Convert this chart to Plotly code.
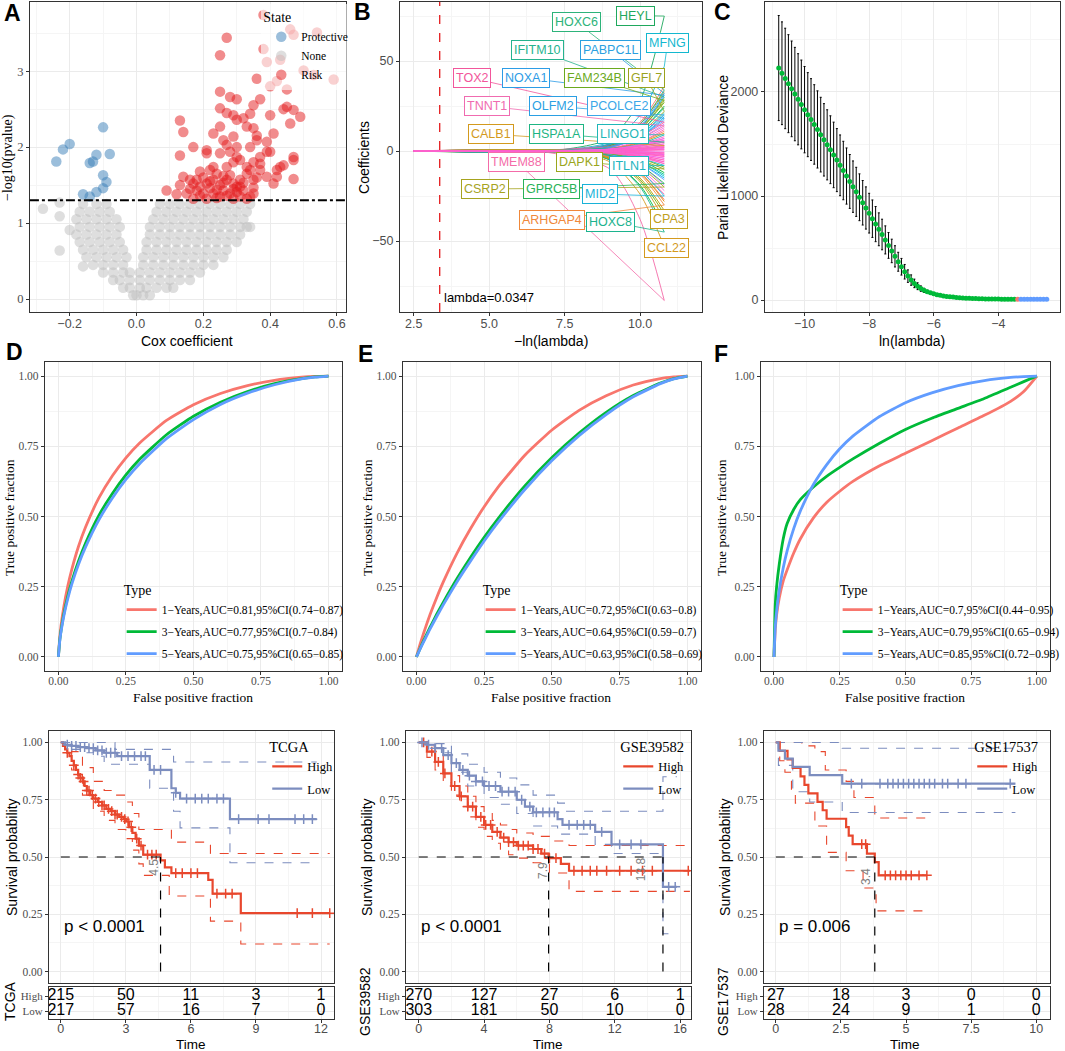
import numpy as np
import plotly.graph_objects as go

W, H = 1065, 1051
SANS = "Liberation Sans, Arial, sans-serif"
SERIF = "Liberation Serif, Times New Roman, serif"
TXT_GREY = "#4D4D4D"

# ---------------- A: univariate Cox volcano ----------------
risk_x = [0.38, 0.46, 0.47, 0.54, 0.27, 0.25, 0.38, 0.39, 0.50, 0.53, 0.59, 0.36, 0.42, 0.45,
          0.25, 0.28, 0.30, 0.37, 0.25, 0.45, 0.47, 0.49, 0.46, 0.29, 0.32, 0.34, 0.30, 0.40,
          0.13, 0.14, 0.17, 0.21, 0.23, 0.25, 0.26, 0.29, 0.33, 0.35, 0.36, 0.39, 0.40, 0.41,
          0.30, 0.30, 0.28, 0.25, 0.13, 0.21, 0.27, 0.31, 0.33, 0.37, 0.44, 0.47, 0.47, 0.43,
          0.39, 0.35, 0.42, 0.41, 0.37, 0.23, 0.19, 0.18, 0.16, 0.13, 0.09, 0.21, 0.23, 0.25,
          0.27, 0.29, 0.31, 0.33, 0.34, 0.28, 0.24, 0.18, 0.15, 0.20, 0.23, 0.25, 0.28, 0.30,
          0.32, 0.34, 0.17, 0.21, 0.24, 0.29, 0.33, 0.35, 0.19, 0.22, 0.26, 0.30, 0.14, 0.37,
          0.39, 0.31,
          0.16, 0.19, 0.22, 0.24, 0.26, 0.27, 0.29, 0.31, 0.32, 0.26, 0.20, 0.17, 0.35, 0.36,
          0.12, 0.22, 0.29, 0.35, 0.27, 0.34, 0.42, 0.47, 0.36, 0.27, 0.35, 0.40, 0.44, 0.43]
risk_y = [3.74, 3.55, 3.48, 3.51, 3.44, 3.21, 3.29, 3.12, 3.01, 2.95, 2.89, 2.90, 2.87, 2.76,
          2.73, 2.66, 2.63, 2.63, 2.51, 2.53, 2.49, 2.40, 2.31, 2.42, 2.38, 2.44, 2.36, 2.42,
          2.35, 2.20, 2.00, 1.96, 2.18, 2.27, 2.09, 2.14, 2.27, 2.25, 2.09, 2.07, 1.94, 2.18,
          2.00, 1.87, 1.94, 1.92, 1.89, 1.92, 1.74, 1.83, 1.74, 1.78, 1.76, 1.87, 1.83, 1.74,
          1.61, 1.57, 1.61, 1.52, 1.70, 1.74, 1.68, 1.57, 1.57, 1.50, 1.43, 1.52, 1.57, 1.50,
          1.57, 1.52, 1.57, 1.65, 1.70, 1.63, 1.65, 1.43, 1.39, 1.39, 1.39, 1.35, 1.39, 1.41,
          1.43, 1.35, 1.32, 1.32, 1.33, 1.32, 1.32, 1.39, 1.48, 1.46, 1.43, 1.48, 1.61, 1.87,
          1.94, 1.48,
          1.45, 1.36, 1.55, 1.44, 1.53, 1.36, 1.45, 1.35, 1.53, 1.62, 1.60, 1.52, 1.47, 1.60,
          1.38, 1.70, 1.80, 1.80, 2.03, 2.00, 1.70, 1.58, 2.15, 2.45, 2.55, 2.80, 2.50, 3.15]
prot_x = [-0.24, -0.22, -0.20, -0.10, -0.12, -0.14, -0.13, -0.08, -0.10, -0.09, -0.10, -0.12, -0.16, -0.14]
prot_y = [1.81, 1.97, 2.04, 2.26, 1.90, 1.79, 1.81, 1.91, 1.63, 1.54, 1.46, 1.41, 1.38, 1.35]
none_row_y = [1.25, 1.15, 1.05, 0.95, 0.85, 0.75, 0.65, 0.55, 0.45, 0.35, 0.25, 0.15, 0.05]
none_row_x = [
    [-0.16, -0.12, -0.09, 0.07, 0.10, 0.13, 0.16, 0.19, 0.22, 0.25, 0.28, 0.31, 0.34],
    [-0.17, -0.14, -0.11, -0.08, 0.06, 0.09, 0.12, 0.15, 0.18, 0.21, 0.24, 0.27, 0.30, 0.33],
    [-0.18, -0.15, -0.12, -0.09, -0.06, 0.05, 0.08, 0.11, 0.14, 0.17, 0.20, 0.23, 0.26, 0.29, 0.32],
    [-0.17, -0.14, -0.11, -0.08, -0.05, 0.04, 0.07, 0.10, 0.13, 0.16, 0.19, 0.22, 0.25, 0.28, 0.31, 0.34],
    [-0.18, -0.15, -0.12, -0.09, -0.06, 0.04, 0.07, 0.10, 0.13, 0.16, 0.19, 0.22, 0.25, 0.28, 0.31],
    [-0.17, -0.14, -0.11, -0.08, -0.05, 0.03, 0.06, 0.09, 0.12, 0.15, 0.18, 0.21, 0.24, 0.27, 0.30],
    [-0.16, -0.13, -0.10, -0.07, -0.04, 0.03, 0.06, 0.09, 0.12, 0.15, 0.18, 0.21, 0.24, 0.27],
    [-0.15, -0.12, -0.09, -0.06, -0.03, 0.02, 0.05, 0.08, 0.11, 0.14, 0.17, 0.20, 0.23, 0.26],
    [-0.13, -0.10, -0.07, -0.04, 0.02, 0.05, 0.08, 0.11, 0.14, 0.17, 0.20, 0.23],
    [-0.10, -0.07, -0.04, -0.02, 0.01, 0.04, 0.07, 0.10, 0.13, 0.16, 0.19],
    [-0.07, -0.05, -0.02, 0.01, 0.04, 0.07, 0.10, 0.13, 0.16],
    [-0.04, -0.02, 0.01, 0.03, 0.06, 0.09, 0.11],
    [-0.01, 0.00, 0.02, 0.04],
]
none_out_x = [-0.28, -0.23, -0.23, -0.20, -0.23, -0.16, 0.33]
none_out_y = [1.19, 1.27, 1.09, 0.91, 0.64, 0.43, 0.95]
p_cut = 1.3

# ---------------- B: LASSO coefficient paths ----------------
gene_names = ["HEYL", "HOXC6", "MFNG", "IFITM10", "PABPC1L", "TOX2", "NOXA1", "FAM234B", "GFL7",
              "TNNT1", "OLFM2", "PCOLCE2", "CALB1", "HSPA1A", "LINGO1", "TMEM88", "DAPK1", "ITLN1",
              "CSRP2", "GPRC5B", "MID2", "ARHGAP4", "HOXC8", "CPA3", "CCL22"]
gene_end = [75, 34, 47, 30, 32, 16, 31, 28, 22, 14, 20, 18, 3, 5, 9, -83, -10, -8, -20, -18, -25, -30, -45, -38, -53]
gene_at10 = [28, 15, 20, 13, 14, 8, 13, 12, 10, 7, 9, 8, 1.5, 3, 4, -38, -5, -4, -9, -8, -11, -13, -20, -17, -24]
gene_at9 = [7, 4, 5, 3.5, 4, 3, 3.5, 3, 2.5, 2.5, 2.5, 2, 0.5, 1.5, 1, -10, -1.5, -1, -2.5, -2.5, -3, -3.5, -5, -4.5, -6]
gene_start = [7.0, 7.2, 6.8, 7.5, 7.4, 6.0, 7.3, 7.6, 7.8, 6.3, 7.7, 7.9, 8.0, 5.5, 8.2, 6.6, 7.8, 8.3,
              7.7, 7.4, 7.9, 8.0, 7.5, 7.8, 7.3]
gene_label_x = [9.84, 7.89, 10.91, 6.61, 9.02, 4.42, 6.23, 8.49, 10.2, 4.92, 7.1, 9.29, 5.07, 7.22, 9.42,
                5.91, 7.99, 9.62, 4.87, 7.07, 8.68, 7.07, 9.01, 10.94, 10.88]
gene_label_y = [75.2, 71.5, 60.0, 56.1, 56.1, 40.6, 40.6, 40.6, 40.6, 25.0, 25.0, 25.0, 9.4, 9.4, 9.4,
                -5.9, -5.9, -8.3, -21.1, -21.1, -23.9, -38.3, -39.3, -37.8, -53.9]
gene_color = ["#1FA85D", "#2DB37A", "#13B8CF", "#25B38E", "#2AA0E0", "#F2569B", "#2C9CE6", "#6BAA1E",
              "#9AA21E", "#F06BB0", "#2A9FE3", "#3AA7E8", "#D39A1E", "#1EB583", "#1FB7B8", "#F46BA8",
              "#9AA61C", "#21B5C0", "#A6A31E", "#29B258", "#18B2D8", "#F0883A", "#1CB38E", "#C2A01E",
              "#D49A1E"]
extra_end = [36, 33, 29, 27, 25, 24, 21, 19, 17, 15, 13, 12, 11, 10, 8, 7, 6, 4, 2, 1,
             -1, -2, -3, -4, -5, -6, -7, -9, -12, -13, -14, -15, -16, -19, -22, -24, -27, -28, -33, -35, -42]
extra_at10 = [16, 15, 13, 12, 11, 11, 9, 8, 8, 7, 6, 5, 5, 4.5, 3.5, 3, 3, 2, 1, 0.5,
              -0.5, -1, -1.5, -2, -2.5, -3, -3, -4, -5, -6, -6, -7, -7, -8, -10, -11, -12, -12, -15, -16, -19]
extra_at9 = [4, 4, 3.5, 3, 3, 3, 2.5, 2, 2, 2, 1.5, 1.5, 1.5, 1, 1, 1, 1, 0.5, 0.3, 0.2,
             -0.2, -0.3, -0.5, -0.5, -0.7, -1, -1, -1, -1.5, -1.5, -2, -2, -2, -2.5, -3, -3, -3.5, -3.5, -4, -4.5, -5]
extra_start = [7.6, 7.9, 7.3, 8.1, 7.5, 7.7, 8.0, 7.2, 7.8, 8.2, 7.4, 6.9, 7.6, 8.0, 7.1, 7.7, 6.5, 7.9, 6.8, 6.2,
               5.8, 6.4, 7.0, 7.5, 6.6, 7.2, 7.8, 7.3, 8.1, 7.6, 7.9, 7.4, 8.2, 7.7, 7.5, 8.0, 7.6, 7.9, 7.4, 7.7, 7.8]
minor_end = [6, 5, 4, 3, 2.5, 2, 1.5, 1, 0.5, -0.5, -1, -1.5, -2, -2.5, -3, -4, -5, -6, 7, -7]
minor_at10 = [3, 2.5, 2, 1.5, 1.2, 1, 0.8, 0.5, 0.3, -0.3, -0.5, -0.8, -1, -1.2, -1.5, -2, -2.5, -3, 3.5, -3.5]
minor_at9 = [1, 0.8, 0.7, 0.5, 0.4, 0.3, 0.3, 0.2, 0.1, -0.1, -0.2, -0.3, -0.3, -0.4, -0.5, -0.7, -0.8, -1, 1.2, -1.2]
minor_start = [5.0, 5.5, 6.0, 4.8, 6.5, 5.2, 7.0, 4.5, 6.2, 5.8, 4.9, 6.8, 5.4, 6.1, 5.6, 7.2, 6.4, 5.9, 6.7, 7.4]
lambda_min_x = 3.36
HUE = ["#F8766D", "#DE8C00", "#B79F00", "#7CAE00", "#00BA38", "#00C08B", "#00BFC4",
       "#00B4F0", "#619CFF", "#C77CFF", "#F564E3", "#FF64B0"]

# ---------------- C: cross-validation curve ----------------
ln_lambda = [-10.8, -10.7, -10.6, -10.5, -10.4, -10.3, -10.2, -10.1, -10.0, -9.9,
             -9.8, -9.7, -9.6, -9.5, -9.4, -9.3, -9.2, -9.1, -9.0, -8.9,
             -8.8, -8.7, -8.6, -8.5, -8.4, -8.3, -8.2, -8.1, -8.0, -7.9,
             -7.8, -7.7, -7.6, -7.5, -7.4, -7.3, -7.2, -7.1, -7.0, -6.9,
             -6.8, -6.7, -6.6, -6.5, -6.4, -6.3, -6.2, -6.1, -6.0, -5.9,
             -5.8, -5.7, -5.6, -5.5, -5.4, -5.3, -5.2, -5.1, -5.0, -4.9,
             -4.8, -4.7, -4.6, -4.5, -4.4, -4.3, -4.2, -4.1, -4.0, -3.9,
             -3.8, -3.7, -3.6, -3.5, -3.4, -3.3, -3.2, -3.1, -3.0, -2.9,
             -2.8, -2.7, -2.6, -2.5]
deviance = [2230, 2180, 2130, 2080, 2030, 1980, 1930, 1880, 1830, 1782,
            1735, 1688, 1640, 1590, 1540, 1492, 1445, 1395, 1345, 1295,
            1245, 1192, 1140, 1090, 1040, 988, 935, 885, 835, 782,
            730, 680, 630, 578, 525, 472, 420, 368, 320, 272,
            230, 192, 160, 133, 110, 93, 80, 69, 60, 52,
            45, 40, 35, 31, 28, 25, 22, 20, 18, 16,
            15, 14, 13, 12, 11, 10, 10, 9, 9, 8,
            8, 8, 7, 7, 7, 7, 7, 7, 7, 7,
            7, 7, 7, 7]
dev_err = [505, 494, 483, 471, 460, 449, 438, 427, 415, 404,
           393, 382, 371, 359, 348, 337, 326, 315, 303, 292,
           281, 270, 259, 247, 236, 225, 214, 203, 191, 180,
           169, 158, 147, 135, 124, 113, 102, 91, 80, 70,
           60, 50, 41, 33, 26, 20, 15, 11, 8, 6,
           5, 4, 4, 3, 3, 3, 2, 2, 2, 2,
           2, 2, 2, 1, 1, 1, 1, 1, 1, 1,
           1, 1, 1, 1, 1, 1, 1, 1, 1, 1,
           1, 1, 1, 1]
lam_group = ["g"] * 74 + ["r"] + ["b"] * 9

# ---------------- D/E/F: time-dependent ROC ----------------
fpr = [0, 0.005, 0.01, 0.02, 0.035, 0.05, 0.075, 0.1, 0.15, 0.2, 0.25, 0.3, 0.4, 0.5, 0.6, 0.7, 0.8, 0.9, 0.95, 1.0]
roc_tcga = [
    [0, 0.069, 0.113, 0.178, 0.253, 0.313, 0.395, 0.461, 0.566, 0.645, 0.709, 0.761, 0.842, 0.898, 0.938, 0.966, 0.985, 0.996, 0.999, 1.0],
    [0, 0.059, 0.095, 0.152, 0.217, 0.270, 0.343, 0.404, 0.504, 0.582, 0.648, 0.703, 0.791, 0.857, 0.907, 0.945, 0.973, 0.991, 0.997, 1.0],
    [0, 0.056, 0.091, 0.145, 0.208, 0.260, 0.331, 0.390, 0.488, 0.566, 0.632, 0.687, 0.777, 0.845, 0.899, 0.939, 0.969, 0.990, 0.996, 1.0],
]
roc_gse39582 = [
    [0, 0.017, 0.034, 0.065, 0.109, 0.150, 0.212, 0.269, 0.370, 0.457, 0.535, 0.603, 0.718, 0.808, 0.878, 0.930, 0.968, 0.991, 0.997, 1.0],
    [0, 0.011, 0.022, 0.044, 0.075, 0.105, 0.152, 0.196, 0.279, 0.355, 0.426, 0.491, 0.609, 0.710, 0.797, 0.871, 0.931, 0.975, 0.991, 1.0],
    [0, 0.010, 0.021, 0.041, 0.070, 0.099, 0.144, 0.187, 0.268, 0.342, 0.413, 0.478, 0.596, 0.699, 0.788, 0.863, 0.926, 0.973, 0.990, 1.0],
]
roc_gse17537 = [
    [0, 0.10, 0.15, 0.21, 0.27, 0.31, 0.37, 0.42, 0.495, 0.55, 0.59, 0.625, 0.68, 0.725, 0.77, 0.815, 0.86, 0.91, 0.945, 1.0],
    [0, 0.19, 0.25, 0.33, 0.42, 0.475, 0.525, 0.56, 0.605, 0.643, 0.675, 0.705, 0.76, 0.81, 0.85, 0.885, 0.92, 0.96, 0.98, 1.0],
    [0, 0.110, 0.163, 0.238, 0.317, 0.378, 0.457, 0.519, 0.614, 0.684, 0.741, 0.786, 0.855, 0.905, 0.940, 0.966, 0.984, 0.995, 0.998, 1.0],
]
roc_names_tcga = ["1−Years,AUC=0.81,95%CI(0.74−0.87)", "3−Years,AUC=0.77,95%CI(0.7−0.84)",
                  "5−Years,AUC=0.75,95%CI(0.65−0.85)"]
roc_names_gse39582 = ["1−Years,AUC=0.72,95%CI(0.63−0.8)", "3−Years,AUC=0.64,95%CI(0.59−0.7)",
                      "5−Years,AUC=0.63,95%CI(0.58−0.69)"]
roc_names_gse17537 = ["1−Years,AUC=0.7,95%CI(0.44−0.95)", "3−Years,AUC=0.79,95%CI(0.65−0.94)",
                      "5−Years,AUC=0.85,95%CI(0.72−0.98)"]
ROC_COL = ["#F8766D", "#00BA38", "#619CFF"]

# ---------------- KM curves ----------------
tcga_hi_t = [0, 0.1, 0.2, 0.3, 0.4, 0.5, 0.6, 0.7, 0.8, 0.9, 1.0, 1.1, 1.2, 1.35, 1.5, 1.7, 1.9, 2.1, 2.3,
             2.5, 2.7, 2.9, 3.0, 3.15, 3.3, 3.45, 3.6, 3.8, 4.6, 4.8, 5.1, 6.8, 7.0, 8.3]
tcga_hi_s = [1.0, 0.985, 0.97, 0.955, 0.94, 0.92, 0.9, 0.88, 0.86, 0.845, 0.83, 0.81, 0.79, 0.77, 0.755,
             0.74, 0.725, 0.71, 0.70, 0.685, 0.675, 0.665, 0.655, 0.63, 0.605, 0.58, 0.55, 0.51, 0.485,
             0.455, 0.43, 0.40, 0.34, 0.255]
tcga_hi_up_t = [0, 0.5, 1.0, 1.5, 2.0, 2.5, 3.0, 3.3, 3.6, 5.1, 6.9]
tcga_hi_up_s = [1.0, 0.96, 0.89, 0.83, 0.79, 0.77, 0.74, 0.69, 0.62, 0.565, 0.515]
tcga_hi_lo_t = [0, 0.5, 1.0, 1.5, 2.0, 2.5, 3.0, 3.3, 3.6, 3.8, 5.0, 6.9, 8.3]
tcga_hi_lo_s = [1.0, 0.88, 0.77, 0.70, 0.66, 0.62, 0.58, 0.53, 0.47, 0.42, 0.33, 0.22, 0.12]
tcga_hi_cens = [0.3, 0.6, 0.8, 0.9, 1.05, 1.2, 1.3, 1.45, 1.6, 1.75, 1.9, 2.0, 2.2, 2.35, 2.5, 2.6, 2.8,
                2.95, 3.1, 3.25, 3.5, 3.7, 4.0, 4.2, 4.4, 5.3, 5.6, 6.0, 6.3, 7.2, 7.6, 7.9, 10.9, 11.6, 12.4]
tcga_lo_t = [0, 0.2, 0.5, 0.8, 1.2, 1.6, 2.0, 2.6, 4.1, 5.1, 5.3, 5.5, 7.8]
tcga_lo_s = [1.0, 0.99, 0.985, 0.98, 0.975, 0.965, 0.955, 0.94, 0.88, 0.80, 0.78, 0.755, 0.665]
tcga_lo_up_t = [0, 2.5, 5.2]
tcga_lo_up_s = [1.0, 0.97, 0.915]
tcga_lo_lo_t = [0, 0.5, 1.0, 1.5, 2.0, 4.1, 5.2, 5.5, 7.8]
tcga_lo_lo_s = [1.0, 0.97, 0.955, 0.94, 0.905, 0.80, 0.70, 0.627, 0.475]
tcga_lo_cens = [0.3, 0.5, 0.7, 0.9, 1.1, 1.3, 1.5, 1.7, 1.9, 2.1, 2.3, 2.5, 2.8, 3.1, 3.4, 3.7, 3.9, 4.3,
                4.6, 5.3, 5.8, 6.2, 6.5, 6.8, 7.2, 7.5, 8.2, 9.1, 9.6, 10.8, 11.2, 11.6]
tcga_end = [12.4, 11.8]
tcga_median = [4.6]
tcga_risk_t = [0, 3, 6, 9, 12]
tcga_risk_hi = [215, 50, 11, 3, 1]
tcga_risk_lo = [217, 57, 16, 7, 0]

g395_hi_t = [0, 0.5, 1.0, 1.5, 2.0, 2.5, 3.0, 3.5, 4.0, 4.5, 5.0, 5.5, 6.0, 7.0, 7.5, 7.95, 8.7, 9.2]
g395_hi_s = [1.0, 0.96, 0.915, 0.865, 0.81, 0.765, 0.72, 0.675, 0.64, 0.61, 0.585, 0.565, 0.55, 0.535,
             0.515, 0.495, 0.47, 0.44]
g395_hi_up_t = [0, 0.5, 1, 1.5, 2, 2.5, 3, 3.5, 4, 4.5, 5, 5.5, 6, 7, 8, 9.2]
g395_hi_up_s = [1.0, 0.985, 0.95, 0.905, 0.855, 0.81, 0.765, 0.72, 0.69, 0.66, 0.64, 0.62, 0.605, 0.59, 0.57, 0.55]
g395_hi_lo_t = [0, 0.5, 1, 1.5, 2, 2.5, 3, 3.5, 4, 4.5, 5, 5.5, 6, 7, 8, 9.2]
g395_hi_lo_s = [1.0, 0.935, 0.88, 0.825, 0.77, 0.72, 0.675, 0.63, 0.59, 0.56, 0.53, 0.51, 0.495, 0.475, 0.43, 0.35]
g395_hi_cens = [0.3, 0.8, 1.2, 1.6, 2.2, 2.6, 3.0, 3.3, 3.8, 4.1, 4.4, 4.8, 5.2, 5.5, 5.8, 6.1, 6.4, 6.7,
                7.0, 7.3, 7.7, 8.0, 8.4, 9.5, 10.0, 10.5, 10.9, 11.5, 12.3, 13.0, 13.7, 14.3, 16.5]
g395_lo_t = [0, 0.5, 1.0, 1.5, 2.0, 2.5, 3.0, 3.5, 4.0, 5.0, 6.0, 6.5, 7.0, 8.5, 8.8, 10.8, 11.8, 14.95]
g395_lo_s = [1.0, 0.99, 0.975, 0.945, 0.91, 0.88, 0.855, 0.83, 0.81, 0.785, 0.75, 0.72, 0.695, 0.665,
             0.64, 0.61, 0.555, 0.37]
g395_lo_up_t = [0, 1, 2, 3, 4, 5, 6, 7, 8.5, 9.0, 14.95]
g395_lo_up_s = [1.0, 0.995, 0.95, 0.905, 0.87, 0.845, 0.815, 0.77, 0.735, 0.70, 0.85]
g395_lo_lo_t = [0, 1, 2, 3, 4, 5, 6, 7, 8.5, 10.8, 11.8, 14.95]
g395_lo_lo_s = [1.0, 0.955, 0.87, 0.81, 0.76, 0.73, 0.69, 0.635, 0.60, 0.555, 0.515, 0.165]
g395_lo_cens = [0.2, 0.6, 1.0, 1.4, 1.8, 2.3, 2.7, 3.1, 3.5, 3.9, 4.3, 4.7, 5.1, 5.5, 5.9, 6.3, 6.8, 7.2,
                7.6, 8.0, 8.3, 9.2, 9.7, 10.1, 10.5, 11.2, 12.3, 13.0, 13.6, 15.3, 15.7]
g395_end = [16.6, 15.8]
g395_median = [7.95, 14.95]
g395_risk_t = [0, 4, 8, 12, 16]
g395_risk_hi = [270, 127, 27, 6, 1]
g395_risk_lo = [303, 181, 50, 10, 0]

g175_hi_t = [0, 0.15, 0.45, 0.65, 0.95, 1.1, 1.25, 1.6, 1.8, 1.95, 2.7, 2.8, 2.95, 3.5, 3.8, 3.95]
g175_hi_s = [1.0, 0.963, 0.926, 0.889, 0.852, 0.815, 0.778, 0.741, 0.704, 0.667, 0.63, 0.593, 0.556,
             0.515, 0.478, 0.42]
g175_hi_up_t = [0, 1.0, 1.5, 1.9, 2.7, 3.0, 3.8]
g175_hi_up_s = [1.0, 0.985, 0.96, 0.88, 0.83, 0.76, 0.67]
g175_hi_lo_t = [0, 0.15, 0.35, 0.6, 0.75, 1.5, 1.95, 2.7, 3.35, 3.85]
g175_hi_lo_s = [1.0, 0.92, 0.87, 0.79, 0.735, 0.635, 0.52, 0.44, 0.365, 0.265]
g175_hi_cens = [3.3, 3.45, 4.2, 4.4, 4.6, 4.8, 5.0, 5.2, 5.5, 5.8]
g175_lo_t = [0, 0.1, 0.35, 0.65, 1.3, 2.55]
g175_lo_s = [1.0, 0.964, 0.929, 0.893, 0.857, 0.82]
g175_lo_up_t = [0, 2.55]
g175_lo_up_s = [1.0, 0.975]
g175_lo_lo_t = [0, 0.1, 0.65, 1.3, 2.55]
g175_lo_lo_s = [1.0, 0.9, 0.785, 0.74, 0.694]
g175_lo_cens = [2.9, 3.3, 4.0, 4.3, 4.5, 4.7, 4.9, 5.1, 5.3, 5.5, 5.7, 5.9, 6.1, 6.4, 6.6, 7.0, 7.3, 9.0]
g175_end = [5.8, 9.2]
g175_median = [3.8]
g175_risk_t = [0, 2.5, 5, 7.5, 10]
g175_risk_hi = [27, 18, 3, 0, 0]
g175_risk_lo = [28, 24, 9, 1, 0]

HI_COL = "#E8472D"
LO_COL = "#7C8DBF"


# ---------------- helpers ----------------
def dom_x(a, b):
    return [a / W, b / W]


def dom_y(top, bottom):
    return [1 - bottom / H, 1 - top / H]


def nm(n):
    return "" if n == 1 else str(n)


def axis(dom, rng, family, size, dtick=None, minor=None, **kw):
    d = dict(domain=dom, range=list(rng), showline=True, mirror=True, linecolor="#333333",
             linewidth=1, ticks="outside", ticklen=3, tickcolor="#333333", tickwidth=1,
             showgrid=True, gridcolor="#EBEBEB", gridwidth=1, zeroline=False,
             tickfont=dict(family=family, size=size, color=TXT_GREY))
    if dtick is not None:
        d.update(tick0=0, dtick=dtick)
    if minor is not None:
        d["minor"] = dict(showgrid=True, gridcolor="#F5F5F5", gridwidth=1, dtick=minor, tick0=0)
    d.update(kw)
    return d


layout_axes = {}
annots = []
shapes = []
fig = go.Figure()


def set_axes(n, xa, ya):
    layout_axes["xaxis" + nm(n)] = dict(xa, anchor="y" + nm(n))
    layout_axes["yaxis" + nm(n)] = dict(ya, anchor="x" + nm(n))


def txt(x, y, s, family=SANS, size=14, color="black", angle=0, **kw):
    annots.append(dict(x=x / W, y=1 - y / H, xref="paper", yref="paper", text=s, showarrow=False,
                       textangle=angle, font=dict(family=family, size=size, color=color),
                       xanchor="center", yanchor="middle", **kw))


# ---------------- A ----------------
set_axes(1, axis(dom_x(30, 347), (-0.319, 0.627), SANS, 12.5, 0.2, 0.1, tickformat=".1f",
                 ticklabelstandoff=-3),
         axis(dom_y(2, 312), (-0.17, 3.91), SERIF, 12.5, 1, 0.5))
none_x = [v for row in none_row_x for v in row] + none_out_x
none_y = [none_row_y[i] for i, row in enumerate(none_row_x) for _ in row] + none_out_y
mk = dict(size=10.5, line=dict(width=0))
fig.add_trace(go.Scatter(x=none_x, y=none_y, mode="markers", name="None", legendrank=2,
                         marker=dict(mk, color="rgba(190,190,190,0.5)"), xaxis="x", yaxis="y"))
fig.add_trace(go.Scatter(x=prot_x, y=prot_y, mode="markers", name="Protective", legendrank=1,
                         marker=dict(mk, color="rgba(55,126,184,0.5)"), xaxis="x", yaxis="y"))
fig.add_trace(go.Scatter(x=risk_x, y=risk_y, mode="markers", name="Risk", legendrank=3,
                         marker=dict(mk, color="rgba(228,26,28,0.5)"), xaxis="x", yaxis="y"))
shapes.append(dict(type="line", xref="x domain", yref="y", x0=0, x1=1, y0=p_cut, y1=p_cut,
                   line=dict(color="black", width=2, dash="dashdot")))
txt(188, 341, "Cox coefficient", SANS, 14)
txt(8, 157, "−log10(pvalue)", SERIF, 14, angle=-90)

# ---------------- B ----------------
set_axes(2, axis(dom_x(401, 704), (2.04, 12.05), SANS, 12.5, 2.5, 1.25, tickformat=".1f",
                 ticklabelstandoff=-3),
         axis(dom_y(2, 312), (-89.4, 82.8), SANS, 12.5, 50, 25))


def add_path(start, a9, a10, end, col):
    fig.add_trace(go.Scatter(x=[2.5, start, 9.0, 10.0, 10.8], y=[0, 0, a9, a10, end], mode="lines",
                             line=dict(color=col, width=0.9, shape="spline", smoothing=0.7),
                             showlegend=False, hoverinfo="skip", xaxis="x2", yaxis="y2"))


pink_later = []
for i in range(len(extra_end)):
    if abs(extra_end[i]) <= 8:
        pink_later.append(i)
    else:
        add_path(extra_start[i], extra_at9[i], extra_at10[i], extra_end[i], HUE[i % len(HUE)])
for i in range(len(gene_names)):
    add_path(gene_start[i], gene_at9[i], gene_at10[i], gene_end[i], gene_color[i])
for i in pink_later:
    add_path(extra_start[i], extra_at9[i], extra_at10[i], extra_end[i], "#F564E3" if i % 2 else "#FF61C3")
for i in range(len(minor_end)):
    add_path(minor_start[i], minor_at9[i], minor_at10[i], minor_end[i], "#FF61C3" if i % 3 else "#F564E3")
shapes.append(dict(type="line", xref="x2", yref="y2 domain", x0=lambda_min_x, x1=lambda_min_x, y0=0, y1=1,
                   line=dict(color="#E41A1C", width=1.3, dash="dash")))
annots.append(dict(x=lambda_min_x + 0.08, y=-81.5, xref="x2", yref="y2", text="lambda=0.0347",
                   showarrow=False, xanchor="left", font=dict(family=SANS, size=13, color="black")))
for i, g in enumerate(gene_names):
    annots.append(dict(x=10.8, y=gene_end[i], xref="x2", yref="y2", ax=gene_label_x[i], ay=gene_label_y[i],
                       axref="x2", ayref="y2", text=g, showarrow=True, arrowhead=0, arrowwidth=0.8,
                       arrowcolor=gene_color[i], standoff=0,
                       font=dict(family=SANS, size=12.5, color=gene_color[i]), bgcolor="white",
                       bordercolor=gene_color[i], borderwidth=1, borderpad=2))
txt(553, 341, "−ln(lambda)", SANS, 14)
txt(365, 157, "Coefficients", SANS, 14, angle=-90)

# ---------------- C ----------------
set_axes(3, axis(dom_x(767, 1063), (-11.23, -2.09), SANS, 12.5, 2, 1, ticklabelstandoff=-3),
         axis(dom_y(2, 312), (-115, 2865), SANS, 12.5, 1000, 500))
for grp, col in [("g", "#00BA38"), ("r", "#F8766D"), ("b", "#619CFF")]:
    idx = [i for i, g in enumerate(lam_group) if g == grp]
    fig.add_trace(go.Scatter(x=[ln_lambda[i] for i in idx], y=[deviance[i] for i in idx], mode="markers",
                             marker=dict(size=5, color=col),
                             error_y=dict(type="data", array=[dev_err[i] for i in idx], color="black",
                                          thickness=1, width=1),
                             showlegend=False, xaxis="x3", yaxis="y3"))
txt(915, 341, "ln(lambda)", SANS, 14)
txt(725, 157, "Parial Likelihood Deviance", SANS, 14, angle=-90)

# ---------------- D / E / F ----------------
roc_panels = [(4, (45, 343), roc_tcga, roc_names_tcga, "legend2", 122, 194, 9),
              (5, (404, 703), roc_gse39582, roc_names_gse39582, "legend3", 482, 553, 368),
              (6, (763, 1053), roc_gse17537, roc_names_gse17537, "legend4", 840, 908, 723)]
legends = {}
for n, (xa, xb), curves, names, leg, lx, tx, ty in roc_panels:
    set_axes(n, axis(dom_x(xa, xb), (-0.05, 1.05), SERIF, 11.5, 0.25, 0.125, tickformat=".2f",
                     ticklabelstandoff=-4),
             axis(dom_y(362, 671), (-0.05, 1.05), SERIF, 11.5, 0.25, 0.125, tickformat=".2f"))
    for k in range(3):
        fig.add_trace(go.Scatter(x=fpr, y=curves[k], mode="lines", name=names[k], legend=leg,
                                 legendgroup=f"{leg}_{k}",
                                 line=dict(color=ROC_COL[k], width=2.8, shape="spline", smoothing=0.5),
                                 xaxis="x" + nm(n), yaxis="y" + nm(n)))
    legends[leg] = dict(x=lx / W, y=1 - 577 / H, xanchor="left", yanchor="top", bgcolor="rgba(255,255,255,0)",
                        font=dict(family=SERIF, size=11.5, color="black"), tracegroupgap=3, itemwidth=30,
                        title=dict(text="Type", font=dict(family=SERIF, size=14, color="black")))
    txt(tx, 697, "False positive fraction", SERIF, 13.5)
    txt(ty, 517, "True positive fraction", SERIF, 13.5, angle=-90)

# ---------------- KM panels ----------------
km_sets = [
    dict(n=7, xr=(-0.55, 12.6), xpx=(49, 335), dt=3, title="TCGA", leg="legend5", lx=268, p="p < 0.0001",
         hi=(tcga_hi_t, tcga_hi_s), lo=(tcga_lo_t, tcga_lo_s), hi_up=(tcga_hi_up_t, tcga_hi_up_s),
         hi_lo=(tcga_hi_lo_t, tcga_hi_lo_s), lo_up=(tcga_lo_up_t, tcga_lo_up_s), lo_lo=(tcga_lo_lo_t, tcga_lo_lo_s),
         hc=tcga_hi_cens, lc=tcga_lo_cens, end=tcga_end, med=tcga_median, med_lab=["4.5"],
         med_pos=[(4.32, 0.455)], rt=tcga_risk_t, rh=tcga_risk_hi, rl=tcga_risk_lo, ytx=12, ctx=192),
    dict(n=9, xr=(-0.79, 16.67), xpx=(407, 693), dt=4, title="GSE39582", leg="legend6", lx=620, p="p < 0.0001",
         hi=(g395_hi_t, g395_hi_s), lo=(g395_lo_t, g395_lo_s), hi_up=(g395_hi_up_t, g395_hi_up_s),
         hi_lo=(g395_hi_lo_t, g395_hi_lo_s), lo_up=(g395_lo_up_t, g395_lo_up_s), lo_lo=(g395_lo_lo_t, g395_lo_lo_s),
         hc=g395_hi_cens, lc=g395_lo_cens, end=g395_end, med=g395_median, med_lab=["7.9", "13.8"],
         med_pos=[(7.6, 0.443), (13.6, 0.446)], rt=g395_risk_t, rh=g395_risk_hi, rl=g395_risk_lo, ytx=368, ctx=550),
    dict(n=11, xr=(-0.46, 10.53), xpx=(766, 1053), dt=2.5, title="GSE17537", leg="legend7", lx=975, p="p = 0.006",
         hi=(g175_hi_t, g175_hi_s), lo=(g175_lo_t, g175_lo_s), hi_up=(g175_hi_up_t, g175_hi_up_s),
         hi_lo=(g175_hi_lo_t, g175_hi_lo_s), lo_up=(g175_lo_up_t, g175_lo_up_s), lo_lo=(g175_lo_lo_t, g175_lo_lo_s),
         hc=g175_hi_cens, lc=g175_lo_cens, end=g175_end, med=g175_median, med_lab=["3.4"],
         med_pos=[(3.46, 0.417)], rt=g175_risk_t, rh=g175_risk_hi, rl=g175_risk_lo, ytx=727, ctx=908),
]


def step_at(ts, ss, q):
    i = np.searchsorted(np.asarray(ts), np.asarray(q), side="right") - 1
    return np.asarray(ss)[i]


for d in km_sets:
    n, m = d["n"], d["n"] + 1
    xs, ys = "x" + nm(n), "y" + nm(n)
    set_axes(n, axis(dom_x(*d["xpx"]), d["xr"], SANS, 12, d["dt"], d["dt"] / 2, showticklabels=False, ticks=""),
             axis(dom_y(731, 983), (-0.05, 1.05), SERIF, 11.5, 0.25, 0.125, tickformat=".2f"))
    set_axes(m, axis(dom_x(*d["xpx"]), d["xr"], SANS, 12.5, d["dt"], d["dt"] / 2, ticklabelstandoff=-5),
             axis(dom_y(987, 1019), (-0.53, 1.6), SERIF, 11, tickvals=[0, 1], ticktext=["Low", "High"]))
    for (ct, cs), col, e in [(d["hi_up"], HI_COL, d["end"][0]), (d["hi_lo"], HI_COL, d["end"][0]),
                             (d["lo_up"], LO_COL, d["end"][1]), (d["lo_lo"], LO_COL, d["end"][1])]:
        fig.add_trace(go.Scatter(x=list(ct) + [e], y=list(cs) + [cs[-1]], mode="lines",
                                 line=dict(color=col, width=1.1, dash="dash", shape="hv"),
                                 showlegend=False, hoverinfo="skip", xaxis=xs, yaxis=ys))
    mmax = max(d["med"])
    shapes.append(dict(type="line", xref=xs, yref=ys, x0=0, x1=mmax, y0=0.5, y1=0.5,
                       line=dict(color="black", width=1.2, dash="dash")))
    for mv, lab, (px, py) in zip(d["med"], d["med_lab"], d["med_pos"]):
        shapes.append(dict(type="line", xref=xs, yref=ys, x0=mv, x1=mv, y0=0, y1=0.5,
                           line=dict(color="black", width=1.2, dash="dash")))
        annots.append(dict(x=px, y=py, xref=xs, yref=ys, text=lab, showarrow=False, textangle=-90,
                           font=dict(family=SANS, size=12, color="#808080")))
    for (ct, cs), cens, col, e, nme in [(d["hi"], d["hc"], HI_COL, d["end"][0], "High"),
                                        (d["lo"], d["lc"], LO_COL, d["end"][1], "Low")]:
        fig.add_trace(go.Scatter(x=list(ct) + [e], y=list(cs) + [cs[-1]], mode="lines", name=nme,
                                 legend=d["leg"], legendgroup=d["leg"] + nme,
                                 line=dict(color=col, width=2.2, shape="hv"), xaxis=xs, yaxis=ys))
        fig.add_trace(go.Scatter(x=cens, y=step_at(ct, cs, cens), mode="markers", showlegend=False,
                                 marker=dict(symbol="cross-thin", size=7, line=dict(color=col, width=1.5)),
                                 hoverinfo="skip", xaxis=xs, yaxis=ys))
    legends[d["leg"]] = dict(x=d["lx"] / W, y=1 - 733 / H, xanchor="left", yanchor="top",
                             bgcolor="rgba(255,255,255,0)", font=dict(family=SERIF, size=12.5, color="black"),
                             tracegroupgap=3, itemwidth=30,
                             title=dict(text=d["title"], font=dict(family=SERIF, size=14.5, color="black")))
    annots.append(dict(x=d["xr"][0] + 0.6 * (d["dt"] / 3), y=0.195, xref=xs, yref=ys, text=d["p"], showarrow=False,
                       xanchor="left", font=dict(family=SANS, size=17, color="black")))
    # risk table
    for row_y, vals in [(1, d["rh"]), (0, d["rl"])]:
        fig.add_trace(go.Scatter(x=d["rt"], y=[row_y] * len(vals), mode="text", text=[str(v) for v in vals],
                                 textfont=dict(family=SANS, size=16, color="black"), showlegend=False,
                                 hoverinfo="skip", xaxis="x" + nm(m), yaxis="y" + nm(m)))
    txt(d["ytx"], 857, "Survival probability", SANS, 14, angle=-90)
    txt(d["ytx"] - 2, 1001, d["title"], SANS, 14, angle=-90)
    txt(d["ctx"], 1044, "Time", SANS, 13.5)

# panel letters
for letter, x, y in [("A", 13, 13), ("B", 364, 12), ("C", 725, 12), ("D", 15, 352), ("E", 367, 354), ("F", 723, 354)]:
    txt(x, y, "<b>" + letter + "</b>", SANS, 23)

legends["legend"] = dict(x=262 / W, y=1 - 4 / H, xanchor="left", yanchor="top", bgcolor="rgba(255,255,255,0.6)",
                         font=dict(family=SERIF, size=11.5, color="black"), itemwidth=30,
                         title=dict(text="State", font=dict(family=SERIF, size=14, color="black")))

fig.update_layout(width=W, height=H, margin=dict(l=0, r=0, t=0, b=0), plot_bgcolor="white",
                  paper_bgcolor="white", showlegend=True, annotations=annots, shapes=shapes,
                  **layout_axes, **legends)
fig.write_html("out.html", config={"displayModeBar": False},
               post_script="document.body.style.margin='0px';")
